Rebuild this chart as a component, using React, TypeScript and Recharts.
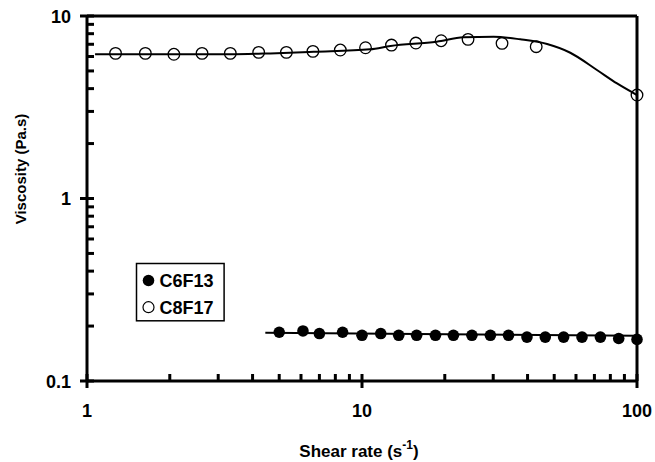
import React from 'react';
import {
    ComposedChart, Line, Scatter, XAxis, YAxis, Legend, Label, ReferenceLine
} from 'recharts';

// C6F13 (filled circles)
const c6X = [5.0, 6.1, 7.0, 8.5, 10.0, 11.7, 13.6, 15.8, 18.5, 21.5, 25.1, 29.3, 34.1, 39.8, 46.4, 54.1, 63.1, 73.6, 85.8, 100];
const c6Y = [0.185, 0.188, 0.182, 0.185, 0.178, 0.182, 0.178, 0.178, 0.178, 0.178, 0.178, 0.178, 0.178, 0.174, 0.174, 0.174, 0.174, 0.174, 0.171, 0.169];
const c6FitX = [4.45, 100];
const c6FitY = [0.184, 0.177];

// C8F17 (open circles)
const c8X = [1.27, 1.63, 2.07, 2.62, 3.32, 4.21, 5.31, 6.63, 8.34, 10.3, 12.8, 15.7, 19.4, 24.3, 32.3, 43.0, 100];
const c8Y = [6.24, 6.24, 6.17, 6.24, 6.24, 6.32, 6.32, 6.40, 6.51, 6.70, 6.93, 7.11, 7.32, 7.45, 7.08, 6.79, 3.69];
const c8FitX = [1.07, 3.32, 4.64, 6.67, 10.7, 12.7, 18.7, 23.4, 30.1, 37.6, 47.1, 57.2, 71.5, 84.6, 100];
const c8FitY = [6.17, 6.17, 6.24, 6.37, 6.57, 6.85, 7.23, 7.64, 7.70, 7.45, 7.02, 6.29, 5.06, 4.27, 3.69];

const xTicks = [1, 2, 3, 4, 5, 6, 7, 8, 9, 10, 20, 30, 40, 50, 60, 70, 80, 90, 100];
const yTicks = [0.1, 0.2, 0.3, 0.4, 0.5, 0.6, 0.7, 0.8, 0.9, 1, 2, 3, 4, 5, 6, 7, 8, 9, 10];

const zip = (xs: number[], ys: number[]) => xs.map((x, i) => ({ x, y: ys[i] }));
const c6Data = zip(c6X, c6Y);
const c6Fit = zip(c6FitX, c6FitY);
const c8Data = zip(c8X, c8Y);
const c8Fit = zip(c8FitX, c8FitY);

const FONT = '"Liberation Sans", Arial, sans-serif';
const isMajor = (v: number) => Math.abs(Math.log10(v) - Math.round(Math.log10(v))) < 1e-9;

// with tickSize -7 and tickMargin 7 the tick x/y land on the axis line
const renderXTick = (props: any) => {
    const { x, y, payload } = props;
    const v = payload.value;
    if (!isMajor(v)) return <g />;
    return (
        <g>
            <line x1={x} x2={x} y1={y} y2={y + 7} stroke="#000" strokeWidth={3} />
            <text x={x} y={y + 36} textAnchor="middle" fontFamily={FONT} fontWeight="bold" fontSize={18} fill="#000">{v}</text>
        </g>
    );
};

const renderYTick = (props: any) => {
    const { x, y, payload } = props;
    const v = payload.value;
    if (!isMajor(v)) return <g />;
    return (
        <g>
            <line x1={x - 7} x2={x} y1={y} y2={y} stroke="#000" strokeWidth={3} />
            <text x={x - 16} y={y + 6.5} textAnchor="end" fontFamily={FONT} fontWeight="bold" fontSize={18} fill="#000">{v}</text>
        </g>
    );
};

const FilledDot = (props: any) => <circle cx={props.cx} cy={props.cy} r={5.8} fill="#000" />;
const OpenDot = (props: any) => <circle cx={props.cx} cy={props.cy} r={5.8} fill="none" stroke="#000" strokeWidth={1.3} />;

const LegendBox = () => (
    <svg width={92} height={62} style={{ display: 'block' }}>
        <rect x={1.5} y={1.5} width={87.6} height={57.3} fill="#fff" stroke="#000" strokeWidth={1.5} />
        <circle cx={13.5} cy={18.5} r={5.8} fill="#000" />
        <text x={24.5} y={24.8} fontFamily={FONT} fontWeight="bold" fontSize={18} fill="#000">C6F13</text>
        <circle cx={13.5} cy={45.2} r={5.5} fill="none" stroke="#000" strokeWidth={1.2} />
        <text x={24.5} y={51.5} fontFamily={FONT} fontWeight="bold" fontSize={18} fill="#000">C8F17</text>
    </svg>
);

const XTitle = (props: any) => {
    const { x, y, width } = props.viewBox;
    return (
        <text x={x + width / 2 - 3} y={y + 76} textAnchor="middle" fontFamily={FONT} fontWeight="bold" fontSize={17} fill="#000">
            Shear rate (s<tspan fontSize={12} dy={-8}>-1</tspan><tspan dy={8}>)</tspan>
        </text>
    );
};

const YTitle = () => (
    <text x={26} y={169} transform="rotate(-90, 26, 169)" textAnchor="middle" fontFamily={FONT} fontWeight="bold" fontSize={15} fill="#000">
        Viscosity (Pa.s)
    </text>
);

const tickLineStyle = { stroke: '#000', strokeWidth: 3 };
const frame = { stroke: '#000', strokeWidth: 3 };

export default function App() {
    return (
        <div style={{ position: 'absolute', left: 0, top: 0, width: 655, height: 462, background: '#fff' }}>
            <ComposedChart width={655} height={462} margin={{ top: 16, right: 18, bottom: 0, left: 0 }}>
                <XAxis
                    dataKey="x" type="number" scale="log" domain={[1, 100]} ticks={xTicks} interval={0}
                    height={81} tick={renderXTick} tickLine={tickLineStyle} tickSize={-7} tickMargin={7}
                    axisLine={frame}
                >
                    <Label content={<XTitle />} />
                </XAxis>
                <YAxis
                    dataKey="y" type="number" scale="log" domain={[0.1, 10]} ticks={yTicks} interval={0}
                    width={87} tick={renderYTick} tickLine={tickLineStyle} tickSize={-7} tickMargin={7}
                    axisLine={frame}
                >
                    <Label content={<YTitle />} />
                </YAxis>
                <ReferenceLine x={100} {...frame} />
                <ReferenceLine y={10} {...frame} />
                <Line data={c8Fit} dataKey="y" type="monotone" stroke="#000" strokeWidth={2} dot={false} isAnimationActive={false} legendType="none" />
                <Line data={c6Fit} dataKey="y" type="linear" stroke="#000" strokeWidth={2} dot={false} isAnimationActive={false} legendType="none" />
                <Scatter name="C8F17" data={c8Data} shape={<OpenDot />} isAnimationActive={false} />
                <Scatter name="C6F13" data={c6Data} shape={<FilledDot />} isAnimationActive={false} />
                <Legend
                    layout="vertical" align="center" verticalAlign="middle"
                    wrapperStyle={{ left: 134.5, top: 261.5, width: 92, height: 62 }}
                    content={<LegendBox />}
                />
            </ComposedChart>
        </div>
    );
}
